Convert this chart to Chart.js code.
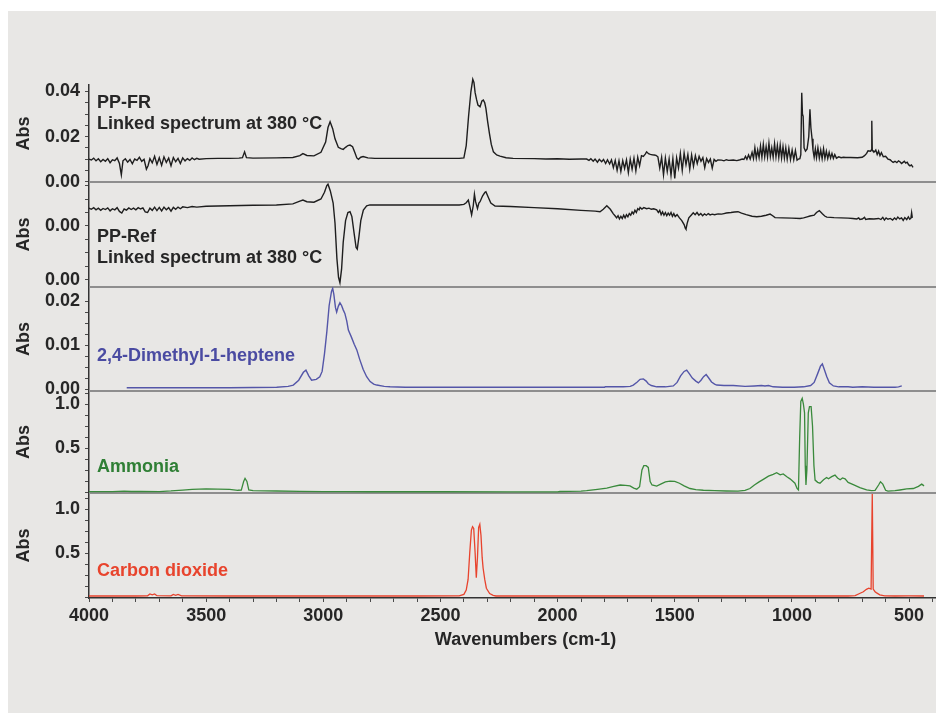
<!DOCTYPE html>
<html>
<head>
<meta charset="utf-8">
<title>TGA-FTIR linked spectra</title>
<script src="https://cdn.jsdelivr.net/npm/chart.js@4.4.1/dist/chart.umd.min.js"></script>
<style>
  html, body { margin: 0; padding: 0; background: #fff; width: 936px; height: 713px; overflow: hidden; }
  #bg { position: absolute; left: 8px; top: 11px; width: 928px; height: 702px; background: #e8e7e5; overflow: hidden; }
  #c { position: absolute; left: 0; top: 0; }
</style>
</head>
<body>
<div id="bg"><canvas id="c" width="954" height="702"></canvas></div>
<script>
/* Five stacked FTIR panels sharing one reversed wavenumber axis.
 * Series are [wavenumber, absorbance] pairs. */

const xTickLabels = [4000, 3500, 3000, 2500, 2000, 1500, 1000, 500];

// panel 1 — PP-FR, linked spectrum at 380 °C
const ppfr = [
  [4000,.0100],[3990,.0096],[3980,.0104],[3970,.0092],[3960,.0101],[3950,.0088],[3940,.0098],[3930,.0090],
  [3920,.0102],[3910,.0084],[3900,.0097],[3890,.0093],[3880,.0105],[3870,.0080],[3862,.0030],[3855,.0092],
  [3845,.0101],[3835,.0086],[3825,.0098],[3815,.0079],[3805,.0100],[3795,.0094],[3785,.0108],[3775,.0090],
  [3765,.0099],[3755,.0055],[3748,.0070],[3740,.0102],[3730,.0083],[3720,.0112],[3710,.0076],[3700,.0106],
  [3690,.0072],[3680,.0110],[3670,.0085],[3660,.0104],[3650,.0070],[3640,.0107],[3630,.0088],[3620,.0103],
  [3610,.0080],[3600,.0105],[3590,.0092],[3580,.0102],[3570,.0094],[3560,.0105],[3550,.0097],[3540,.0103],
  [3530,.0099],[3500,.0102],[3450,.0103],[3400,.0103],[3360,.0104],[3345,.0106],[3336,.0132],[3328,.0106],
  [3300,.0104],[3200,.0105],[3130,.0107],[3100,.0115],[3087,.0124],[3070,.0116],[3040,.0114],[3010,.0130],
  [2990,.0175],[2980,.0240],[2971,.0266],[2960,.0235],[2950,.0190],[2936,.0152],[2925,.0146],[2915,.0143],
  [2905,.0152],[2895,.0160],[2886,.0162],[2875,.0155],[2865,.0128],[2857,.0105],[2850,.0099],[2840,.0108],
  [2830,.0111],[2810,.0105],[2780,.0103],[2600,.0103],[2420,.0103],[2400,.0105],[2390,.0160],[2380,.0290],
  [2370,.0400],[2362,.0454],[2357,.0440],[2352,.0395],[2346,.0365],[2340,.0340],[2331,.0332],[2323,.0358],
  [2317,.0362],[2311,.0350],[2306,.0325],[2299,.0270],[2291,.0214],[2283,.0165],[2274,.0132],[2260,.0118],
  [2246,.0113],[2220,.0106],[2190,.0103],[2100,.0102],[2050,.0100],[2000,.0101],[1950,.0099],[1900,.0100],
  [1876,.0100],[1866,.0094],[1858,.0101],[1848,.0090],[1840,.0100],[1830,.0086],[1822,.0099],[1812,.0088],
  [1804,.0098],[1795,.0080],[1787,.0097],[1778,.0078],[1770,.0096],[1762,.0062],[1754,.0094],[1746,.0050],
  [1738,.0092],[1730,.0045],[1722,.0093],[1714,.0058],[1706,.0096],[1698,.0040],[1690,.0100],[1682,.0055],
  [1674,.0104],[1666,.0048],[1658,.0108],[1650,.0070],[1642,.0115],[1634,.0112],[1626,.0122],[1620,.0132],
  [1612,.0124],[1604,.0121],[1596,.0119],[1588,.0118],[1580,.0116],[1572,.0110],[1564,.0060],[1556,.0108],
  [1548,.0030],[1540,.0104],[1532,.0045],[1524,.0100],[1516,.0028],[1508,.0102],[1500,.0014],[1492,.0105],
  [1484,.0060],[1476,.0125],[1468,.0050],[1460,.0127],[1452,.0075],[1444,.0120],[1436,.0055],[1428,.0118],
  [1420,.0068],[1412,.0115],[1404,.0080],[1396,.0112],[1388,.0090],[1380,.0106],[1372,.0062],[1364,.0102],
  [1356,.0085],[1348,.0100],[1340,.0060],[1332,.0098],[1324,.0090],[1316,.0096],[1300,.0095],[1290,.0092],
  [1280,.0097],[1270,.0094],[1250,.0096],[1235,.0093],[1221,.0097],[1212,.0100],[1205,.0098],[1198,.0112],
  [1192,.0099],[1185,.0118],[1178,.0100],[1170,.0130],[1164,.0102],[1158,.0150],[1152,.0104],[1146,.0140],
  [1140,.0106],[1134,.0158],[1128,.0108],[1122,.0165],[1116,.0110],[1110,.0155],[1104,.0109],[1098,.0170],
  [1092,.0111],[1086,.0150],[1080,.0108],[1074,.0168],[1068,.0110],[1062,.0160],[1056,.0107],[1050,.0162],
  [1044,.0105],[1038,.0155],[1032,.0104],[1026,.0150],[1020,.0100],[1013,.0148],[1006,.0098],[999,.0140],
  [992,.0097],[985,.0138],[978,.0095],[972,.0100],[966,.0102],[962,.0120],[958,.0394],[955,.0300],
  [952,.0290],[948,.0150],[942,.0135],[935,.0145],[928,.0200],[923,.0321],[919,.0240],[914,.0190],
  [910,.0140],[905,.0108],[900,.0145],[895,.0106],[889,.0150],[883,.0104],[877,.0140],[871,.0102],
  [865,.0146],[859,.0103],[853,.0135],[847,.0102],[841,.0130],[835,.0104],[829,.0125],[823,.0103],
  [817,.0120],[810,.0104],[800,.0110],[790,.0106],[780,.0108],[770,.0107],[750,.0107],[720,.0106],
  [700,.0108],[690,.0115],[681,.0125],[675,.0137],[664,.0135],[661,.0140],[659,.0270],[657,.0140],
  [654,.0135],[648,.0132],[642,.0140],[636,.0120],[630,.0135],[624,.0115],[618,.0128],[610,.0110],
  [600,.0112],[590,.0100],[581,.0097],[574,.0090],[568,.0085],[560,.0090],[552,.0084],[545,.0092],
  [539,.0088],[532,.0080],[526,.0085],[520,.0090],[514,.0082],[508,.0086],[502,.0075],[496,.0070],
  [490,.0074],[483,.0063]
];

// panel 2 — PP-Ref, linked spectrum at 380 °C
const ppref = [
  [4000,.0066],[3990,.0062],[3980,.0068],[3970,.0060],[3960,.0066],[3950,.0058],[3940,.0065],[3930,.0061],
  [3920,.0067],[3910,.0056],[3900,.0064],[3890,.0060],[3880,.0068],[3870,.0054],[3860,.0048],[3850,.0063],
  [3840,.0059],[3830,.0067],[3820,.0061],[3810,.0066],[3800,.0060],[3790,.0068],[3780,.0063],[3770,.0067],
  [3760,.0052],[3750,.0050],[3740,.0066],[3730,.0058],[3720,.0070],[3710,.0057],[3700,.0069],[3690,.0056],
  [3680,.0070],[3670,.0060],[3660,.0068],[3650,.0055],[3640,.0069],[3630,.0062],[3620,.0070],[3610,.0064],
  [3600,.0071],[3580,.0068],[3560,.0072],[3540,.0070],[3500,.0073],[3400,.0075],[3300,.0077],[3200,.0078],
  [3130,.0082],[3100,.0092],[3087,.0096],[3070,.0090],[3040,.0088],[3010,.0100],[2995,.0125],[2985,.0150],
  [2980,.0155],[2970,.0130],[2958,.0085],[2950,.0010],[2942,-.0120],[2935,-.0190],[2929,-.0210],[2922,-.0160],
  [2915,-.0060],[2905,.0020],[2895,.0050],[2886,.0053],[2878,.0035],[2868,-.0030],[2860,-.0080],[2855,-.0086],
  [2848,-.0040],[2840,.0020],[2829,.0059],[2815,.0075],[2801,.0078],[2600,.0078],[2420,.0078],[2400,.0080],
  [2390,.0086],[2381,.0096],[2374,.0070],[2367,.0041],[2360,.0075],[2355,.0118],[2350,.0090],[2342,.0065],
  [2336,.0085],[2331,.0090],[2320,.0112],[2310,.0125],[2306,.0127],[2295,.0105],[2285,.0085],[2267,.0074],
  [2200,.0072],[2100,.0068],[2000,.0064],[1900,.0058],[1840,.0055],[1819,.0053],[1805,.0062],[1790,.0075],
  [1775,.0062],[1762,.0045],[1755,.0038],[1748,.0030],[1742,.0038],[1736,.0026],[1730,.0036],[1724,.0028],
  [1718,.0040],[1712,.0030],[1706,.0042],[1700,.0034],[1694,.0046],[1688,.0040],[1682,.0052],[1676,.0045],
  [1670,.0058],[1664,.0050],[1658,.0064],[1652,.0060],[1648,.0069],[1640,.0063],[1632,.0068],[1620,.0064],
  [1610,.0066],[1600,.0062],[1590,.0064],[1577,.0060],[1570,.0050],[1564,.0058],[1558,.0042],[1552,.0052],
  [1546,.0040],[1540,.0050],[1534,.0038],[1528,.0048],[1522,.0040],[1516,.0050],[1510,.0036],[1504,.0046],
  [1498,.0035],[1490,.0042],[1480,.0030],[1470,.0020],[1460,.0005],[1455,-.0008],[1452,-.0012],[1447,.0010],
  [1440,.0030],[1430,.0040],[1421,.0049],[1413,.0042],[1405,.0050],[1397,.0040],[1389,.0046],[1381,.0038],
  [1373,.0045],[1365,.0040],[1357,.0046],[1349,.0041],[1340,.0044],[1330,.0042],[1315,.0045],[1300,.0044],
  [1290,.0046],[1280,.0048],[1260,.0050],[1245,.0052],[1230,.0053],[1215,.0048],[1195,.0042],[1170,.0036],
  [1150,.0034],[1130,.0036],[1110,.0040],[1093,.0044],[1082,.0038],[1072,.0031],[1040,.0030],[1000,.0029],
  [965,.0028],[950,.0030],[935,.0034],[923,.0037],[905,.0040],[895,.0050],[883,.0057],[870,.0045],
  [860,.0037],[851,.0033],[820,.0031],[790,.0030],[760,.0029],[740,.0028],[723,.0026],[715,.0030],
  [710,.0024],[700,.0026],[690,.0032],[685,.0024],[670,.0027],[650,.0026],[630,.0028],[620,.0024],
  [612,.0032],[605,.0022],[598,.0030],[590,.0025],[580,.0028],[570,.0022],[562,.0030],[555,.0024],
  [548,.0033],[540,.0026],[532,.0030],[525,.0021],[518,.0031],[510,.0024],[503,.0034],[497,.0025],
  [492,.0029],[489,.0049],[486,.0030]
];

// panel 3 — 2,4-dimethyl-1-heptene reference
const heptene = [
  [3839,.0003],[3600,.0003],[3400,.0003],[3199,.0004],[3150,.0006],[3128,.0009],[3105,.0020],[3085,.0038],
  [3074,.0043],[3062,.0030],[3050,.0020],[3030,.0022],[3015,.0028],[3005,.0040],[2995,.0080],[2985,.0130],
  [2975,.0190],[2965,.0222],[2960,.0229],[2955,.0215],[2948,.0185],[2943,.0175],[2936,.0188],[2929,.0196],
  [2922,.0190],[2915,.0180],[2908,.0172],[2900,.0155],[2893,.0134],[2880,.0118],[2868,.0102],[2857,.0089],
  [2845,.0068],[2830,.0045],[2815,.0028],[2800,.0017],[2785,.0011],[2772,.0009],[2740,.0006],[2715,.0005],
  [2650,.0004],[2300,.0004],[1900,.0004],[1800,.0004],[1797,.0005],[1720,.0005],[1690,.0006],[1677,.0009],
  [1660,.0016],[1648,.0022],[1634,.0023],[1622,.0018],[1613,.0012],[1600,.0008],[1577,.0005],[1540,.0005],
  [1506,.0007],[1490,.0015],[1475,.0030],[1460,.0040],[1449,.0043],[1438,.0035],[1425,.0025],[1410,.0018],
  [1399,.0014],[1388,.0020],[1377,.0028],[1366,.0033],[1355,.0025],[1343,.0016],[1330,.0011],[1321,.0009],
  [1290,.0008],[1250,.0008],[1200,.0006],[1160,.0007],[1130,.0008],[1115,.0007],[1100,.0008],[1080,.0005],
  [1040,.0004],[990,.0004],[950,.0005],[920,.0008],[905,.0015],[890,.0035],[878,.0052],[870,.0057],
  [862,.0045],[851,.0028],[840,.0014],[823,.0007],[800,.0005],[760,.0005],[740,.0004],[700,.0005],
  [650,.0004],[560,.0004],[545,.0005],[531,.0007]
];

// panel 4 — ammonia reference
const ammonia = [
  [4000,.005],[3900,.005],[3850,.010],[3820,.006],[3780,.008],[3700,.005],[3650,.012],[3600,.022],
  [3560,.030],[3500,.036],[3450,.034],[3400,.030],[3365,.020],[3350,.022],[3340,.120],[3334,.156],
  [3326,.120],[3318,.025],[3300,.015],[3200,.012],[3100,.008],[3000,.005],[2900,.004],[2800,.003],
  [2500,.003],[2200,.002],[2000,.002],[1990,.006],[1950,.008],[1900,.010],[1876,.015],[1830,.030],
  [1790,.045],[1760,.065],[1733,.080],[1710,.075],[1691,.070],[1675,.045],[1662,.032],[1650,.060],
  [1640,.250],[1632,.300],[1622,.300],[1613,.280],[1605,.120],[1597,.080],[1577,.068],[1560,.090],
  [1540,.115],[1520,.125],[1500,.120],[1480,.100],[1460,.070],[1435,.040],[1410,.028],[1378,.020],
  [1330,.015],[1280,.012],[1230,.010],[1200,.020],[1179,.040],[1160,.080],[1140,.115],[1122,.144],
  [1100,.180],[1080,.200],[1065,.220],[1050,.195],[1037,.205],[1020,.170],[1008,.150],[995,.120],
  [987,.100],[978,.040],[972,.023],[967,.600],[962,1.030],[956,1.065],[951,1.000],[946,.900],
  [943,.300],[940,.080],[936,.250],[930,.900],[925,.970],[918,.970],[912,.750],[906,.300],
  [901,.136],[890,.110],[880,.100],[865,.140],[852,.165],[844,.150],[830,.175],[816,.193],
  [805,.160],[794,.140],[784,.160],[773,.150],[760,.110],[738,.085],[710,.050],[681,.025],
  [660,.015],[645,.020],[630,.080],[622,.117],[612,.090],[600,.020],[590,.010],[560,.015],
  [539,.023],[510,.035],[482,.040],[460,.065],[446,.090],[436,.070]
];

// panel 5 — carbon dioxide reference
const co2 = [
  [4000,.012],[3800,.012],[3750,.014],[3740,.035],[3730,.025],[3720,.035],[3710,.015],[3650,.013],
  [3640,.030],[3630,.020],[3620,.030],[3605,.013],[3400,.012],[3000,.012],[2600,.012],[2420,.013],
  [2400,.030],[2390,.080],[2382,.200],[2375,.500],[2368,.760],[2363,.800],[2358,.780],[2352,.500],
  [2347,.220],[2342,.450],[2337,.790],[2332,.826],[2327,.700],[2322,.450],[2318,.330],[2311,.200],
  [2304,.100],[2290,.040],[2275,.020],[2263,.012],[2200,.012],[1800,.012],[1400,.012],[1000,.012],
  [760,.012],[730,.016],[711,.040],[695,.060],[682,.088],[672,.100],[662,.090],[657,1.170],
  [653,.090],[645,.060],[640,.050],[625,.025],[604,.014],[560,.012],[500,.013],[436,.012]
];

const panelNames = [
  ['PP-FR', 'Linked spectrum at 380 °C'],
  ['PP-Ref', 'Linked spectrum at 380 °C'],
  ['2,4-Dimethyl-1-heptene'],
  ['Ammonia'],
  ['Carbon dioxide'],
];

const FONT = { family: '"Liberation Sans", Arial, Helvetica, sans-serif', size: 18, weight: 'bold' };
const INK = '#262626';
const pts = (a) => a.map(([x, y]) => ({ x, y }));

function yAxis(o) {
  return {
    type: 'linear', position: 'left', stack: 'spec', stackWeight: o.h, weight: o.w,
    min: o.min, max: o.max,
    title: { display: true, text: 'Abs', color: INK, font: FONT, padding: { top: 5, bottom: 0 } },
    grid: { drawOnChartArea: false, drawTicks: true, tickLength: 4, tickColor: '#4a4a4a', tickWidth: 1 },
    border: { display: true, color: '#333', width: 1.5 },
    ticks: {
      autoSkip: false, padding: 5, color: INK, font: FONT,
      callback: (v) => {
        const i = o.majors.findIndex((m) => Math.abs(m - v) < o.step / 10);
        return i < 0 ? '' : o.labels[i];
      },
    },
    afterBuildTicks: (s) => {
      const t = [];
      for (let k = Math.round(o.from / o.step); k <= Math.round(o.to / o.step); k++) t.push({ value: +(k * o.step).toFixed(6) });
      s.ticks = t;
    },
    afterFit: (s) => { s.width = 81; s.paddingTop = 0; s.paddingBottom = 0; },
  };
}

const separators = {
  id: 'separators',
  beforeDatasetsDraw(chart) {
    const { ctx, chartArea: a } = chart;
    ctx.save();
    ctx.strokeStyle = '#8e8e8e'; ctx.lineWidth = 2;
    ['y1', 'y2', 'y3', 'y4'].forEach((id) => {
      const y = Math.round(chart.scales[id].bottom);
      ctx.beginPath(); ctx.moveTo(a.left, y); ctx.lineTo(a.right, y); ctx.stroke();
    });
    ctx.restore();
  },
};

const panelLabels = {
  id: 'panelLabels',
  afterDatasetsDraw(chart) {
    const { ctx, chartArea: a } = chart;
    const spots = [[18, 39], [55, 76], [69], [76], [78]];
    const colors = [INK, INK, '#4a4ba2', '#2f7f35', '#e8442d'];
    ctx.save();
    ctx.font = `bold ${FONT.size}px ${FONT.family}`;
    ctx.textBaseline = 'middle'; ctx.textAlign = 'left';
    panelNames.forEach((lines, p) => {
      const top = chart.scales['y' + (p + 1)].top;
      ctx.fillStyle = colors[p];
      lines.forEach((s, i) => ctx.fillText(s, a.left + 8, top + spots[p][i]));
    });
    ctx.restore();
  },
};

const line = (data, color, axis, width, extra) => Object.assign({
  data: pts(data), yAxisID: axis, xAxisID: 'x', borderColor: color, borderWidth: width,
  pointRadius: 0, tension: 0, fill: false,
}, extra || {});

new Chart(document.getElementById('c'), {
  type: 'line',
  data: {
    datasets: [
      line(ppfr, '#1e1e1e', 'y1', 1.4, { clip: false }),
      line(ppref, '#1e1e1e', 'y2', 1.4),
      line(heptene, '#5456a8', 'y3', 1.4),
      line(ammonia, '#3a8a3c', 'y4', 1.3),
      line(co2, '#e8432d', 'y5', 1.3),
    ],
  },
  options: {
    responsive: false, animation: false, events: [], parsing: false,
    layout: { padding: { top: 74, bottom: 62, left: 0, right: 0 } },
    plugins: { legend: { display: false }, tooltip: { enabled: false } },
    scales: {
      x: {
        type: 'linear', position: 'bottom', reverse: true, min: 274, max: 4000,
        title: { display: true, text: 'Wavenumbers (cm-1)', color: INK, font: FONT, padding: { top: 0, bottom: 0 } },
        grid: { drawOnChartArea: false, drawTicks: true, tickLength: 4, tickColor: '#4a4a4a' },
        border: { display: true, color: '#333', width: 1.5 },
        ticks: {
          autoSkip: false, maxRotation: 0, padding: 3, color: INK, font: FONT,
          callback: (v) => (xTickLabels.includes(v) ? String(v) : ''),
        },
        afterBuildTicks: (s) => {
          const t = [];
          for (let v = 300; v <= 4000; v += 100) t.push({ value: v });
          s.ticks = t;
        },
        afterFit: (s) => { s.height = 53; s.paddingLeft = 0; s.paddingRight = 0; },
      },
      y1: yAxis({ h: 97, w: 5, min: -0.0002, max: 0.0429, majors: [0, 0.02, 0.04], labels: ['0.00', '0.02', '0.04'], step: 0.005, from: 0, to: 0.04 }),
      y2: yAxis({ h: 105, w: 4, min: -0.0226, max: 0.0163, majors: [0, -0.02], labels: ['0.00', '0.00'], step: 0.005, from: -0.02, to: 0.015 }),
      y3: yAxis({ h: 104, w: 3, min: -0.00045, max: 0.0232, majors: [0, 0.01, 0.02], labels: ['0.00', '0.01', '0.02'], step: 0.0025, from: 0, to: 0.02 }),
      y4: yAxis({ h: 102, w: 2, min: -0.011, max: 1.148, majors: [0.5, 1.0], labels: ['0.5', '1.0'], step: 0.125, from: 0, to: 1.125 }),
      y5: yAxis({ h: 105, w: 1, min: -0.011, max: 1.182, majors: [0.5, 1.0], labels: ['0.5', '1.0'], step: 0.125, from: 0, to: 1.125 }),
    },
  },
  plugins: [separators, panelLabels],
});
</script>
</body>
</html>
